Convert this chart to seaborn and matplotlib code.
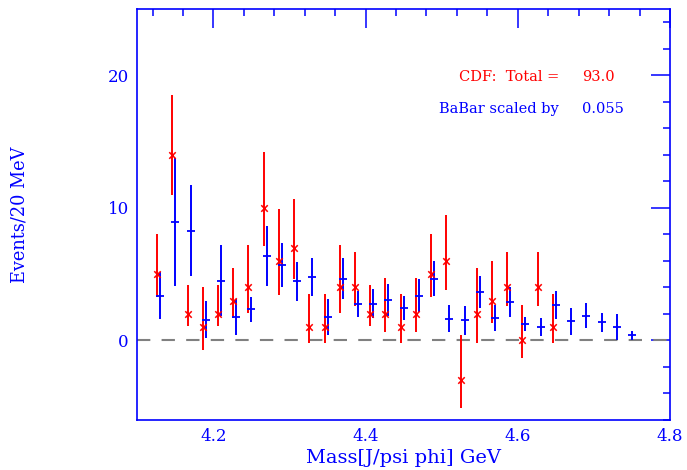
import matplotlib
matplotlib.use("Agg")
import matplotlib.pyplot as plt
from matplotlib.ticker import MultipleLocator
import pandas as pd
import seaborn as sns

# 20 MeV bin centres of the J/psi phi mass spectrum (GeV)
mass = [4.13, 4.15, 4.17, 4.19, 4.21, 4.23, 4.25, 4.27, 4.29, 4.31, 4.33,
        4.35, 4.37, 4.39, 4.41, 4.43, 4.45, 4.47, 4.49, 4.51, 4.53, 4.55,
        4.57, 4.59, 4.61, 4.63, 4.65, 4.67, 4.69, 4.71, 4.73, 4.75]

# CDF background-subtracted events per bin, with asymmetric errors
cdf_events = [5, 14, 2, 1, 2, 3, 4, 10, 6, 7, 1, 1, 4, 4, 2, 2, 1, 2, 5, 6,
              -3, 2, 3, 4, 0, 4, 1]
cdf_err_up = [3.0, 4.5, 2.2, 3.0, 2.2, 2.5, 3.2, 4.2, 3.9, 3.7, 2.5, 2.5,
              3.2, 2.7, 2.2, 2.7, 2.5, 2.7, 3.0, 3.5, 3.4, 3.5, 3.0, 2.7,
              2.7, 2.7, 2.5]
cdf_err_down = [1.7, 3.0, 0.9, 1.7, 0.9, 1.3, 1.9, 2.9, 2.6, 2.4, 1.2, 1.2,
                1.9, 1.4, 0.9, 1.4, 1.2, 1.4, 1.7, 2.2, 2.1, 2.2, 1.7, 1.4,
                1.3, 1.4, 1.2]

# BaBar spectrum after scaling, with symmetric errors
babar_events = [3.37, 8.92, 8.29, 1.58, 4.52, 1.79, 2.34, 6.38, 5.68, 4.45,
                4.80, 1.78, 4.65, 2.76, 2.76, 3.06, 2.44, 3.39, 4.65, 1.63,
                1.51, 3.67, 1.68, 2.91, 1.24, 1.03, 2.69, 1.43, 1.86, 1.36,
                1.03, 0.40]
babar_err = [1.76, 4.82, 3.42, 1.42, 2.70, 1.36, 0.95, 2.25, 1.65, 1.50,
             1.45, 1.37, 1.55, 0.99, 1.10, 1.23, 0.93, 1.24, 1.33, 1.02,
             1.07, 1.19, 1.00, 1.15, 0.56, 0.69, 1.06, 1.00, 0.93, 0.69,
             0.97, 0.34]
babar_scale = 0.055

# CDF points are nudged left so both error bars stay visible
cdf_offset = -0.004

cdf = pd.DataFrame({
    "mass": [m + cdf_offset for m in mass[:len(cdf_events)]],
    "events": cdf_events,
    "up": cdf_err_up,
    "down": cdf_err_down,
})
babar = pd.DataFrame({"mass": mass, "events": babar_events, "err": babar_err})

sns.set_theme(style="white")
plt.rcParams["font.family"] = ["DejaVu Serif"]
plt.rcParams["mathtext.fontset"] = "dejavuserif"

BLUE = "#0000ff"
RED = "#ff0000"

fig = plt.figure(figsize=(6.87, 4.70), dpi=100)
ax = fig.add_axes([137.3 / 687, 50 / 470, 532.7 / 687, 411 / 470])

ax.axhline(0, color="#808080", lw=1.5, dashes=(6.4, 5.4), zorder=1)

ax.errorbar(cdf["mass"], cdf["events"], yerr=[cdf["down"], cdf["up"]],
            fmt="none", ecolor=RED, elinewidth=1.4, capsize=0, zorder=3)
sns.scatterplot(data=cdf, x="mass", y="events", marker="x", color=RED,
                s=22, linewidth=1.1, ax=ax, zorder=4, legend=False)

ax.errorbar(babar["mass"], babar["events"], yerr=babar["err"],
            fmt="none", ecolor=BLUE, elinewidth=1.4, capsize=0, zorder=3)
sns.scatterplot(data=babar, x="mass", y="events", marker="_", color=BLUE,
                s=30, linewidth=1.3, ax=ax, zorder=4, legend=False)

ax.set_xlim(4.1, 4.8)
ax.set_ylim(-6, 25)
ax.xaxis.set_major_locator(MultipleLocator(0.2))
ax.xaxis.set_minor_locator(MultipleLocator(0.04))
ax.yaxis.set_major_locator(MultipleLocator(10))
ax.yaxis.set_minor_locator(MultipleLocator(2))

ax.tick_params(which="both", direction="in", top=True, right=True,
               color=BLUE, labelcolor=BLUE, width=1.1)
ax.tick_params(which="major", length=14, labelsize=12, pad=6)
ax.tick_params(which="minor", length=5)
for side in ax.spines.values():
    side.set_color(BLUE)
    side.set_linewidth(1.2)

ax.set_xlabel("Mass[J/psi phi] GeV", color=BLUE, fontsize=14.0, va="center")
ax.xaxis.set_label_coords(0.5, -0.093)
ax.set_ylabel("Events/20 MeV", color=BLUE, fontsize=12.8, va="center")
ax.yaxis.set_label_coords(-0.221, 0.5)

total = sum(cdf_events)
ax.text(0.7916, 0.835, "CDF:  Total =", transform=ax.transAxes,
        ha="right", va="center", color=RED, fontsize=10.5)
ax.text(0.8348, 0.835, f"{total:.1f}", transform=ax.transAxes,
        ha="left", va="center", color=RED, fontsize=10.5)
ax.text(0.7916, 0.756, "BaBar scaled by", transform=ax.transAxes,
        ha="right", va="center", color=BLUE, fontsize=10.5)
ax.text(0.8348, 0.756, f"{babar_scale:.3f}", transform=ax.transAxes,
        ha="left", va="center", color=BLUE, fontsize=10.5)

fig.savefig("out.png", dpi=100)
